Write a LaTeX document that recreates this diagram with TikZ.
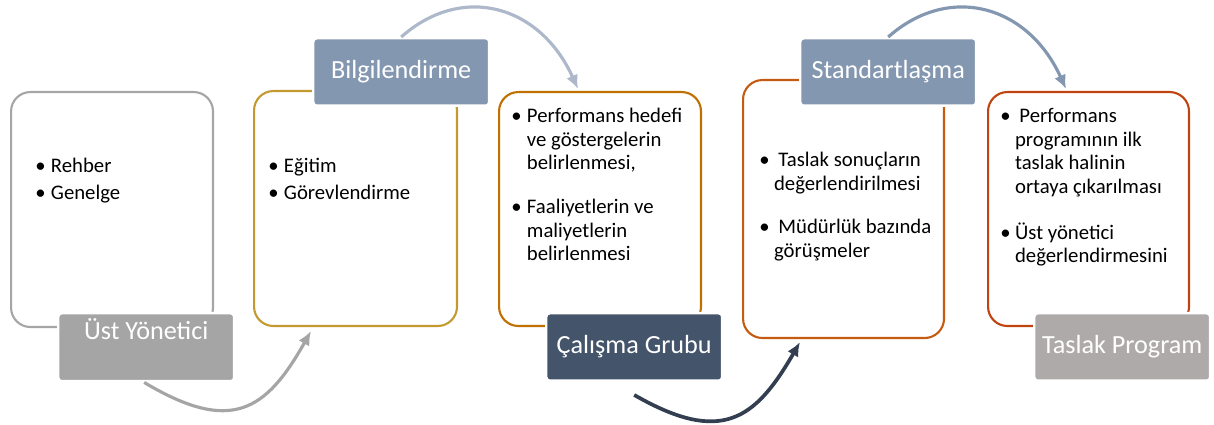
\documentclass[tikz,border=0pt]{standalone}
\usepackage{fontspec}
\setmainfont{Carlito}
\usepackage{tikz}
\usetikzlibrary{positioning, arrows, arrows.meta, calc}

\definecolor{grikutu}{HTML}{A5A5A5}
\definecolor{altin}{HTML}{C39A30}
\definecolor{turuncu}{HTML}{C07000}
\definecolor{kiremit}{HTML}{C55A11}
\definecolor{kirmizi}{HTML}{C0440F}
\definecolor{mavigri}{HTML}{8497B0}
\definecolor{acikmavi}{HTML}{ADB9CA}
\definecolor{lacivert}{HTML}{44546A}
\definecolor{koyu}{HTML}{333F50}
\definecolor{tasgri}{HTML}{AEAAAA}

\newcommand{\govde}{\fontsize{11.8}{13.3}\selectfont}
\newcommand{\baslik}{\fontsize{14.9}{17}\selectfont}

\begin{document}
\begin{tikzpicture}[
  x=0.02cm, y=-0.02cm,
  kutu/.style={draw, line width=1.2pt, rounded corners=11pt, minimum width=#1},
  etiket/.style={fill=#1, draw=white, line width=1.4pt, rounded corners=2pt,
    minimum width=3.52cm, minimum height=1.35cm, text=white, font=\baslik},
  metin/.style={anchor=base west, inner sep=0pt, font=\govde},
  ok/.style={line width=1.8pt, -{Latex[length=8pt,width=7pt]}}
]
\useasboundingbox (0,0) rectangle (1214,425);

% icerik kutulari
\node[kutu=4.04cm, draw=grikutu, minimum height=4.7cm, anchor=north west] (k1) at (10,91) {};
\node[kutu=4.06cm, draw=altin, minimum height=4.7cm, anchor=north west] (k2) at (253,90) {};
\node[kutu=4.04cm, draw=turuncu, minimum height=4.68cm, anchor=north west] (k3) at (498,91) {};
\node[kutu=4.02cm, draw=kiremit, minimum height=5.16cm, anchor=north west] (k4) at (742,79) {};
\node[kutu=4.02cm, draw=kirmizi, minimum height=4.68cm, anchor=north west] (k5) at (987,91) {};

% maddeler
\node[metin] (m1) at ($(k1.north west)+(25,82)$) {\begin{tabular}[t]{@{}l@{\hspace{3pt}}l@{}}
• & Rehber\\[2pt]
• & Genelge
\end{tabular}};
\node[metin] (m2) at ($(k2.north west)+(15,83)$) {\begin{tabular}[t]{@{}l@{\hspace{3pt}}l@{}}
• & Eğitim\\[2pt]
• & Görevlendirme
\end{tabular}};
\node[metin] (m3) at ($(k3.north west)+(13,32)$) {\begin{tabular}[t]{@{}l@{\hspace{3pt}}l@{}}
• & Performans hedefi\\
  & ve göstergelerin\\
  & belirlenmesi,\\[11.7pt]
• & Faaliyetlerin ve\\
  & maliyetlerin\\
  & belirlenmesi
\end{tabular}};
\node[metin] (m4) at ($(k4.north west)+(17,88)$) {\begin{tabular}[t]{@{}l@{\hspace{2.5pt}}l@{}}
• & \hspace{2.5pt}Taslak sonuçların\\
  & değerlendirilmesi\\[11.5pt]
• & \hspace{2.5pt}Müdürlük bazında\\
  & görüşmeler
\end{tabular}};
\node[metin] (m5) at ($(k5.north west)+(13,32)$) {\begin{tabular}[t]{@{}l@{\hspace{2.5pt}}l@{}}
• & \hspace{2.5pt}Performans\\
  & programının ilk\\
  & taslak halinin\\
  & ortaya çıkarılması\\[13pt]
• & Üst yönetici\\
  & değerlendirmesini
\end{tabular}};

% baslik kutulari
\node[etiket=grikutu, anchor=north west, minimum height=1.36cm] (e1) at (57,312) {};
\node[font=\baslik, text=white, anchor=base] (e1y) at ($(e1.north)+(0,28)$) {Üst Yönetici};
\node[etiket=mavigri, anchor=north west] (e2) at (312,37) {Bilgilendirme};
\node[etiket=lacivert, anchor=north west] (e3) at (545,312) {Çalışma Grubu};
\node[etiket=mavigri, anchor=north west] (e4) at (799,37) {Standartlaşma};
\node[etiket=tasgri, anchor=north west] (e5) at (1033,312) {Taslak Program};

% oklar
\draw[ok, grikutu] ([xshift=-0.04cm]e1.south) .. controls +(87,52) and +(-45,80) .. ($(k2.south west)+(58,4)$);
\draw[ok, acikmavi] (e2.north) .. controls +(61,-54) and +(-38,-84) .. ($(k3.north west)+(80,-2)$);
\draw[ok, koyu, line width=2.1pt] ($(e3.south)+(0,13)$) .. controls +(87,50) and +(-45,78) .. ($(k4.south west)+(58,3)$);
\draw[ok, mavigri] (e4.north) .. controls +(61,-54) and +(-38,-84) .. ($(k5.north west)+(79,-2)$);

\end{tikzpicture}
\end{document}
